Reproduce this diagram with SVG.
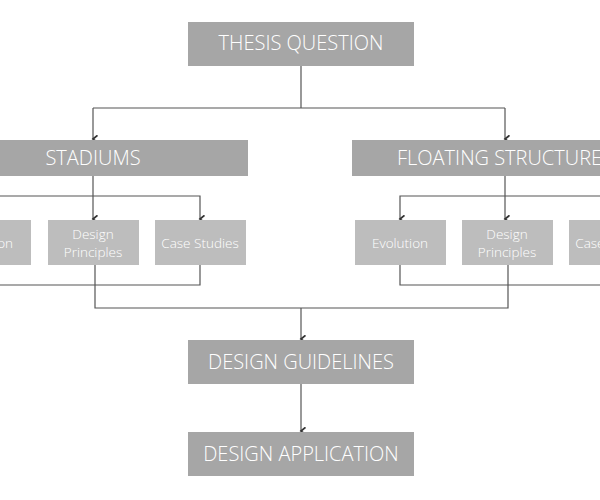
<svg xmlns="http://www.w3.org/2000/svg" width="600" height="500" viewBox="0 0 600 500">
<defs>
<style>
.big{fill:#a6a6a6}
.sm{fill:#bdbdbd}
text{font-family:"Open Sans","Liberation Sans",sans-serif;fill:#fff;text-anchor:middle}
.bt{font-size:20px;font-weight:300}
.st{font-size:13.5px;font-weight:300}
.c{fill:none;stroke:#555;stroke-width:1.2}
</style>
<marker id="a" viewBox="0 0 10 10" refX="5" refY="8" markerWidth="9" markerHeight="9" markerUnits="userSpaceOnUse" orient="auto-start-reverse"><path d="M1,3 L5,8 L9,3" fill="none" stroke="#333" stroke-width="2"/></marker>
</defs>
<g id="connectors">
<path class="c" d="M301,66 V108 M93,108 H505"/>
<path class="c" d="M93,108 V139" marker-end="url(#a)"/>
<path class="c" d="M505,108 V139" marker-end="url(#a)"/>
<path class="c" d="M93,176 V219" marker-end="url(#a)"/>
<path class="c" d="M0,196 H200 V219" marker-end="url(#a)"/>
<path class="c" d="M505,176 V219" marker-end="url(#a)"/>
<path class="c" d="M600,196 H400 V219" marker-end="url(#a)"/>
<path class="c" d="M0,285 H200 V265 M400,265 V285 H600"/>
<path class="c" d="M95,265 V308 H508 V265"/>
<path class="c" d="M301,308 V339" marker-end="url(#a)"/>
<path class="c" d="M301,384 V431" marker-end="url(#a)"/>
</g>
<g id="thesis"><rect class="big" x="188" y="22" width="226" height="44"/><text class="bt" x="301" y="50">THESIS QUESTION</text></g>
<g id="stadiums"><rect class="big" x="-20" y="140" width="268" height="36"/><text class="bt" x="93" y="165">STADIUMS</text></g>
<g id="floating"><rect class="big" x="352" y="140" width="270" height="36"/><text class="bt" x="505" y="165">FLOATING STRUCTURES</text></g>
<g id="s-evo"><rect class="sm" x="-60" y="220" width="91" height="45"/><text class="st" x="-15" y="248">Evolution</text></g>
<g id="s-dp"><rect class="sm" x="48" y="220" width="91" height="45"/><text class="st" x="93" y="239">Design</text><text class="st" x="93" y="257">Principles</text></g>
<g id="s-cs"><rect class="sm" x="155" y="220" width="91" height="45"/><text class="st" x="200" y="248">Case Studies</text></g>
<g id="f-evo"><rect class="sm" x="355" y="220" width="91" height="45"/><text class="st" x="400" y="248">Evolution</text></g>
<g id="f-dp"><rect class="sm" x="462" y="220" width="91" height="45"/><text class="st" x="507" y="239">Design</text><text class="st" x="507" y="257">Principles</text></g>
<g id="f-cs"><rect class="sm" x="569" y="220" width="91" height="45"/><text class="st" x="614" y="248">Case Studies</text></g>
<g id="guidelines"><rect class="big" x="188" y="340" width="226" height="44"/><text class="bt" x="301" y="369">DESIGN GUIDELINES</text></g>
<g id="application"><rect class="big" x="188" y="432" width="226" height="44"/><text class="bt" x="301" y="461">DESIGN APPLICATION</text></g>
</svg>
